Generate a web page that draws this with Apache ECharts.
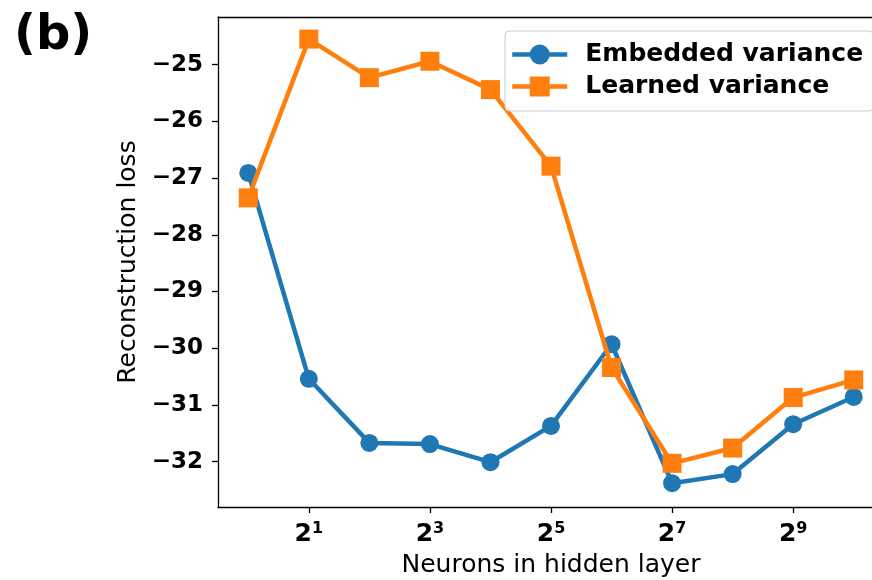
<!DOCTYPE html>
<html>
<head>
<meta charset="utf-8">
<script src="https://cdn.jsdelivr.net/npm/echarts@6/dist/echarts.min.js"></script>
<style>
html,body{margin:0;padding:0;background:#fff;overflow:hidden;}
#chart{width:872px;height:580px;}
</style>
</head>
<body>
<div id="chart"></div>
<script>
// exponents of 2 (neurons in hidden layer = 2^exponent)
var exponents = [0, 1, 2, 3, 4, 5, 6, 7, 8, 9, 10];
var embeddedVariance = [-26.91, -30.54, -31.67, -31.69, -32.01, -31.37, -29.93, -32.38, -32.22, -31.34, -30.86];
var learnedVariance = [-27.35, -24.55, -25.23, -24.94, -25.44, -26.79, -30.34, -32.03, -31.76, -30.87, -30.56];
var xTickExponents = [1, 3, 5, 7, 9];
var yTickValues = [-32, -31, -30, -29, -28, -27, -26, -25];
var seriesNames = ['Embedded variance', 'Learned variance'];

var FONT = 'DejaVu Sans';
function pairs(xs, ys) { return xs.map(function (x, i) { return [x, ys[i]]; }); }

var chart = echarts.init(document.getElementById('chart'), null, { renderer: 'canvas' });
chart.setOption({
  animation: false,
  backgroundColor: '#ffffff',
  title: {
    text: '(b)', left: 9, top: 8,
    textStyle: { fontFamily: FONT, fontSize: 48, fontWeight: 'bold', color: '#000' }
  },
  grid: {
    left: 218, top: 17, width: 666, height: 490,
    outerBoundsMode: 'none',
    show: false,
    containLabel: false
  },
  legend: {
    orient: 'vertical', left: 505, top: 31,
    data: seriesNames,
    backgroundColor: 'rgba(255,255,255,0.8)', borderColor: '#cccccc', borderWidth: 1, borderRadius: 4,
    padding: [11, 10, 12, 5], itemGap: 7, itemWidth: 55, itemHeight: 25,
    lineStyle: { width: 4.5 },
    textStyle: { fontFamily: FONT, fontSize: 25, fontWeight: 'bold', color: '#000', padding: [0, 0, 0, 13] }
  },
  xAxis: [
    {
      type: 'value', min: -0.5, max: 10.5, position: 'bottom',
      name: 'Neurons in hidden layer', nameLocation: 'middle', nameGap: 46,
      nameTextStyle: { fontFamily: FONT, fontSize: 25, color: '#000' },
      axisLine: { show: true, onZero: false, lineStyle: { color: '#000', width: 1.3 } },
      axisTick: { show: true, inside: false, length: 6, customValues: xTickExponents, lineStyle: { color: '#000', width: 1.3 } },
      splitLine: { show: false },
      axisLabel: {
        customValues: xTickExponents, margin: 14,
        formatter: function (v) { return '{b|2}{s|' + v + '}'; },
        rich: {
          b: { fontFamily: FONT, fontSize: 25, fontWeight: 'bold', color: '#000', lineHeight: 27 },
          s: { fontFamily: FONT, fontSize: 16, fontWeight: 'bold', color: '#000', lineHeight: 16, verticalAlign: 'top' }
        }
      }
    },
    {
      type: 'value', min: -0.5, max: 10.5, position: 'top',
      axisLine: { show: true, onZero: false, lineStyle: { color: '#000', width: 1.3 } },
      axisTick: { show: false }, axisLabel: { show: false }, splitLine: { show: false }
    }
  ],
  yAxis: {
    type: 'value', min: -32.8, max: -24.16,
    name: 'Reconstruction loss', nameLocation: 'middle', nameGap: 77, nameRotate: 90,
    nameTextStyle: { fontFamily: FONT, fontSize: 25, color: '#000' },
    axisLine: { show: true, onZero: false, lineStyle: { color: '#000', width: 1.3 } },
    axisTick: { show: true, inside: false, length: 6, customValues: yTickValues, lineStyle: { color: '#000', width: 1.3 } },
    splitLine: { show: false },
    axisLabel: {
      customValues: yTickValues, margin: 15,
      fontFamily: FONT, fontSize: 23, fontWeight: 'bold', color: '#000',
      formatter: function (v) { return String(v).replace('-', '\u2212'); }
    }
  },
  series: [
    {
      name: seriesNames[0], type: 'line', xAxisIndex: 0, data: pairs(exponents, embeddedVariance),
      symbol: 'circle', symbolSize: 18, showAllSymbol: true,
      lineStyle: { color: '#1f77b4', width: 4.5 },
      itemStyle: { color: '#1f77b4', borderWidth: 0 },
      z: 2
    },
    {
      name: seriesNames[1], type: 'line', xAxisIndex: 0, data: pairs(exponents, learnedVariance),
      symbol: 'rect', symbolSize: 19, showAllSymbol: true,
      lineStyle: { color: '#ff7f0e', width: 4.5 },
      itemStyle: { color: '#ff7f0e', borderWidth: 0 },
      z: 3
    }
  ]
});
</script>
</body>
</html>
